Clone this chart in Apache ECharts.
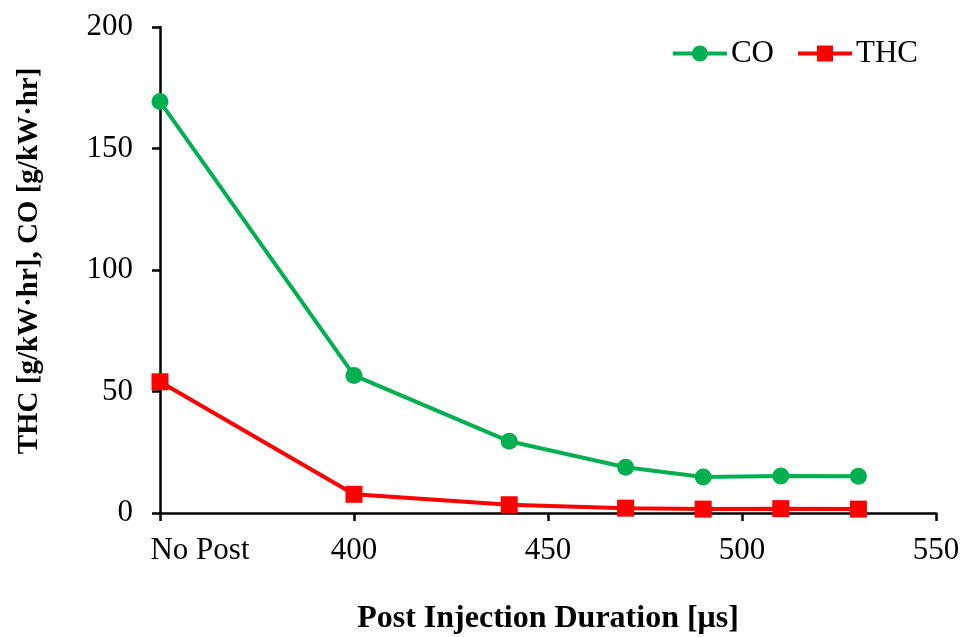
<!DOCTYPE html>
<html>
<head>
<meta charset="utf-8">
<script src="https://cdn.jsdelivr.net/npm/echarts@6/dist/echarts.min.js"></script>
<style>
	html,body{margin:0;padding:0;background:#fff;}
	#main{width:962px;height:637px;}
</style>
</head>
<body>
<div id="main"></div>
<script type="text/javascript">
	// x = post injection duration (350 stands for "No Post")
	var duration = [350, 400, 440, 470, 490, 510, 530];
	var co_vals = [169.3, 56.6, 29.5, 18.8, 14.8, 15.2, 15.1];
	var thc_vals = [54.0, 7.7, 3.4, 2.0, 1.6, 1.8, 1.6];
	var x_ticks = {350:"No Post", 400:"400", 450:"450", 500:"500", 550:"550"};

	function pairs(xs, ys){
		var arr = [];
		xs.forEach(function(el, i){ arr.push([el, ys[i]]); });
		return arr;
	}

	var font = "'Liberation Serif','Times New Roman',serif";
	var myChart = echarts.init(document.getElementById("main"));

	var option = {
		animation:false,
		backgroundColor:"#fff",
		textStyle:{fontFamily:font},
		grid:{left:160, right:26, top:27, bottom:124, containLabel:false, outerBoundsMode:"none"},
		legend:{
			right:39, top:33,
			itemWidth:54, itemHeight:20, itemGap:22,
			lineStyle:{width:4},
			textStyle:{fontFamily:font, fontSize:31, color:"#000", padding:[0,0,0,-1]},
			data:["CO","THC"]
		},
		xAxis:{
			type:"value", min:350, max:550, interval:50,
			name:"Post Injection Duration [\u03bcs]",
			nameLocation:"middle", nameGap:90,
			nameTextStyle:{fontFamily:font, fontSize:32, fontWeight:"bold", color:"#000"},
			axisLine:{show:true, lineStyle:{color:"#000", width:2.5}},
			axisTick:{show:true, inside:false, length:8, lineStyle:{color:"#000", width:2.5}},
			axisLabel:{fontFamily:font, fontSize:31, color:"#000", margin:22,
				formatter:function(v){
					if(v === 350)return "{first|" + x_ticks[v] + "}";
					return x_ticks[v] !== undefined ? x_ticks[v] : "";
				},
				rich:{first:{fontFamily:font, fontSize:31, color:"#000", padding:[0,0,0,80]}}
			},
			splitLine:{show:false}
		},
		yAxis:{
			type:"value", min:0, max:200, interval:50,
			name:"THC [g/kW\u00b7hr], CO [g/kW\u00b7hr]",
			nameLocation:"middle", nameGap:116,
			nameTextStyle:{fontFamily:font, fontSize:29, fontWeight:"bold", color:"#000", padding:[0,0,0,18]},
			axisLine:{show:true, lineStyle:{color:"#000", width:2.5}},
			axisTick:{show:true, inside:false, length:8, lineStyle:{color:"#000", width:2.5}},
			axisLabel:{fontFamily:font, fontSize:31, color:"#000", margin:27},
			splitLine:{show:false}
		},
		series:[
			{
				name:"CO", type:"line",
				data:pairs(duration, co_vals),
				symbol:"circle", symbolSize:17,
				lineStyle:{color:"#00b050", width:4},
				itemStyle:{color:"#00b050"},
				z:3
			},
			{
				name:"THC", type:"line",
				data:pairs(duration, thc_vals),
				symbol:"rect", symbolSize:17,
				lineStyle:{color:"#ff0000", width:4},
				itemStyle:{color:"#ff0000"},
				z:4
			}
		]
	};

	myChart.setOption(option);
</script>
</body>
</html>
